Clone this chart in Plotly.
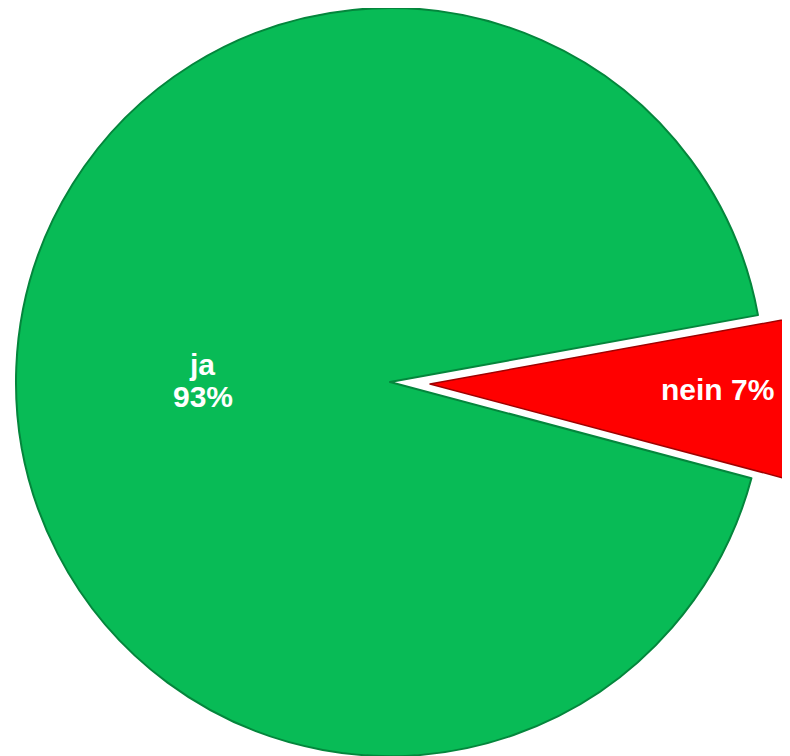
import plotly.graph_objects as go

labels = ["nein", "ja"]
values = [7, 93]
colors = ["#FF0000", "#08BB56"]
edge_colors = ["#A00000", "#04863C"]

W, H = 830, 748
clear = "rgba(0,0,0,0)"
rotation = 79.7


def dom(cx, cy, r):
    return dict(x=[max(0, (cx - r) / W), min(1, (cx + r) / W)],
                y=[max(0, 1 - (cy + r) / H), min(1, 1 - (cy - r) / H)])


fig = go.Figure()

# main (green) pie
fig.add_trace(go.Pie(
    labels=labels, values=values, sort=False, direction="clockwise",
    rotation=rotation, textinfo="none", hoverinfo="label+percent",
    marker=dict(colors=[clear, colors[1]],
                line=dict(color=[clear, edge_colors[1]], width=2)),
    domain=dom(382, 374, 374),
    showlegend=False,
))

# exploded (red) slice
fig.add_trace(go.Pie(
    labels=labels, values=values, sort=False, direction="clockwise",
    rotation=rotation, textinfo="none", hoverinfo="label+percent",
    marker=dict(colors=[colors[0], clear],
                line=dict(color=[edge_colors[0], clear], width=1.5)),
    domain=dom(422, 376, 372),
    showlegend=False,
))

font = dict(family="Liberation Sans, Arial, sans-serif", size=30, color="white")


def label(text, x, y):
    fig.add_annotation(x=x / W, y=1 - y / H, xref="paper", yref="paper",
                       xanchor="center", yanchor="middle",
                       text=f"<b>{text}</b>", showarrow=False, font=font)


label(labels[1], 194, 356)
label(f"{values[1]}%", 195, 388)
label(f"{labels[0]} {values[0]}%", 709, 381)

fig.update_layout(width=W, height=H, margin=dict(l=0, r=0, t=0, b=0),
                  paper_bgcolor="white", plot_bgcolor="white")
fig.write_html("out.html")
